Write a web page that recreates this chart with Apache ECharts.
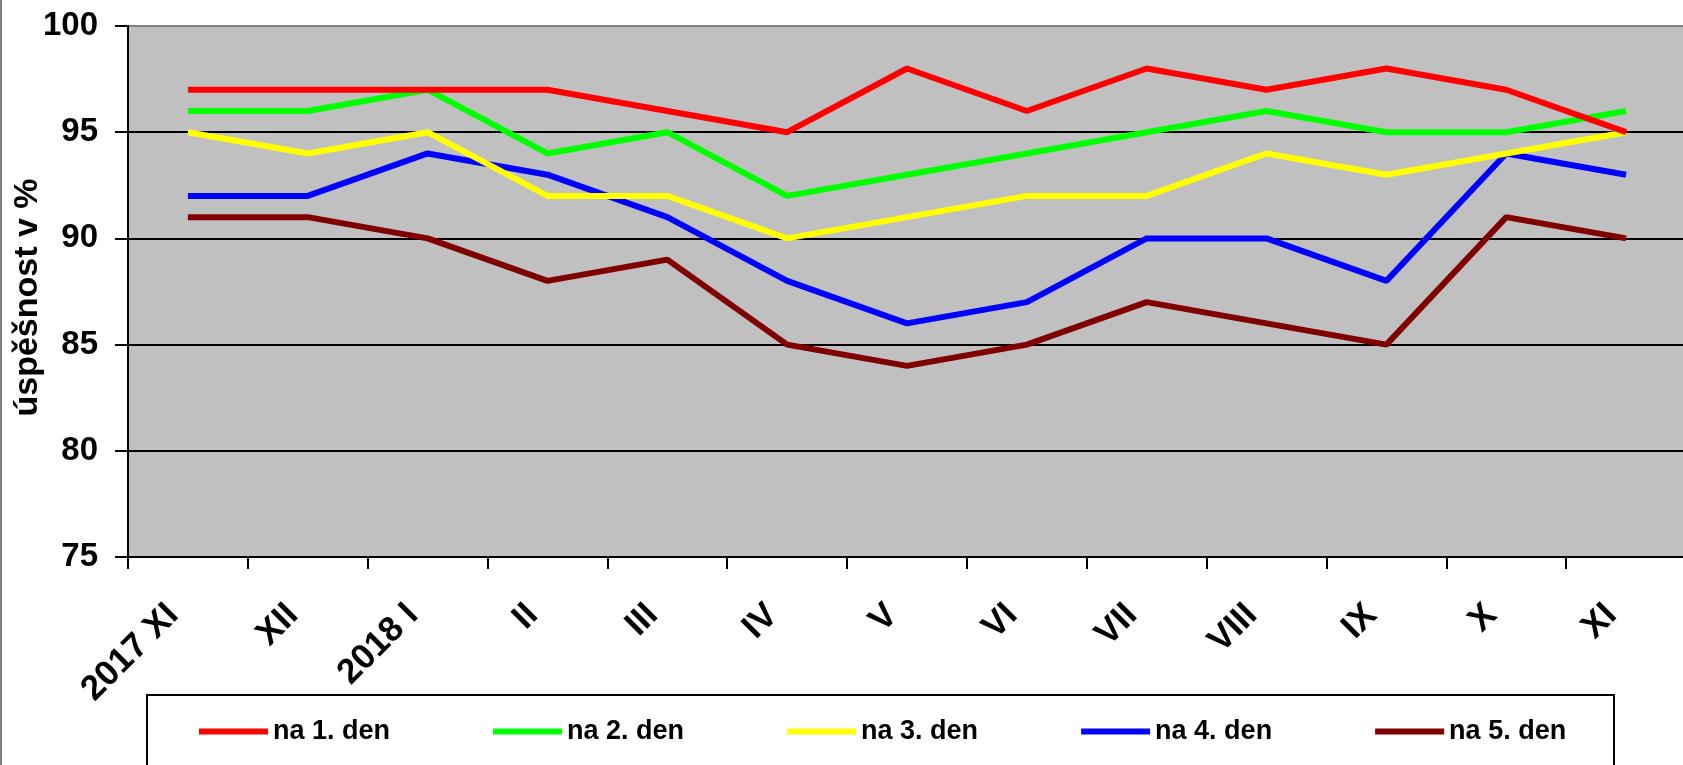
<!DOCTYPE html>
<html>
<head>
<meta charset="utf-8">
<script src="https://cdn.jsdelivr.net/npm/echarts@6/dist/echarts.min.js"></script>
<style>
  html, body { margin: 0; padding: 0; background: #fff; }
  #chart { width: 1683px; height: 765px; }
</style>
</head>
<body>
<div id="chart"></div>
<script>
// Monthly success rate (%) by day of delivery
const months = ['2017 XI', 'XII', '2018 I', 'II', 'III', 'IV', 'V', 'VI', 'VII', 'VIII', 'IX', 'X', 'XI'];
const day1 = [97, 97, 97, 97, 96, 95, 98, 96, 98, 97, 98, 97, 95];
const day2 = [96, 96, 97, 94, 95, 92, 93, 94, 95, 96, 95, 95, 96];
const day3 = [95, 94, 95, 92, 92, 90, 91, 92, 92, 94, 93, 94, 95];
const day4 = [92, 92, 94, 93, 91, 88, 86, 87, 90, 90, 88, 94, 93];
const day5 = [91, 91, 90, 88, 89, 85, 84, 85, 87, 86, 85, 91, 90];
const seriesNames = ['na 1. den', 'na 2. den', 'na 3. den', 'na 4. den', 'na 5. den'];
const seriesColors = ['#ff0000', '#00ff00', '#ffff00', '#0000ff', '#800000'];
const seriesData = [day1, day2, day3, day4, day5];
const yAxisTitle = 'úspěšnost v %';

const FONT = '"Liberation Sans", Arial, sans-serif';

const chart = echarts.init(document.getElementById('chart'), null, { renderer: 'canvas' });

chart.setOption({
  animation: false,
  backgroundColor: '#ffffff',
  textStyle: { fontFamily: FONT },
  grid: {
    left: 128, top: 26, right: -3, bottom: 208,
    outerBoundsMode: 'none',
    containLabel: false,
    show: true,
    backgroundColor: '#c0c0c0',
    borderColor: '#808080',
    borderWidth: 1
  },
  graphic: [
    {
      type: 'line', z: 0,
      shape: { x1: 1, y1: 0, x2: 1, y2: 765 },
      style: { stroke: '#808080', lineWidth: 2 }
    },
    {
      type: 'rect', z: 0,
      shape: { x: 147, y: 695, width: 1467, height: 100 },
      style: { fill: '#ffffff', stroke: '#000000', lineWidth: 2 }
    }
  ],
  legend: {
    z: 10,
    left: 199,
    top: 718,
    padding: 0,
    icon: 'rect',
    itemWidth: 69,
    itemHeight: 6,
    itemGap: 103,
    textStyle: { fontFamily: FONT, fontWeight: 'bold', fontSize: 27, color: '#000' },
    data: seriesNames
  },
  xAxis: {
    type: 'category',
    data: months,
    boundaryGap: true,
    axisLine: { show: true, lineStyle: { color: '#000', width: 2 } },
    axisTick: { show: true, length: 12, lineStyle: { color: '#000', width: 2 } },
    axisLabel: {
      interval: 0,
      rotate: 45,
      margin: 38,
      padding: [0, 21, 0, 0],
      fontFamily: FONT,
      fontWeight: 'bold',
      fontSize: 35,
      color: '#000'
    },
    splitLine: { show: false }
  },
  yAxis: {
    type: 'value',
    min: 75,
    max: 100,
    interval: 5,
    name: yAxisTitle,
    nameLocation: 'middle',
    nameGap: 83,
    nameMoveOverlap: false,
    nameRotate: 90,
    nameTextStyle: { fontFamily: FONT, fontWeight: 'bold', fontSize: 34, color: '#000', padding: [0, 12, 0, 0] },
    axisLine: { show: true, lineStyle: { color: '#000', width: 2 } },
    axisTick: { show: true, length: 13, lineStyle: { color: '#000', width: 2 } },
    axisLabel: {
      margin: 30,
      fontFamily: FONT,
      fontWeight: 'bold',
      fontSize: 33,
      color: '#000'
    },
    splitLine: {
      show: true,
      lineStyle: { color: ['#000', '#000', '#000', '#000', '#000', '#808080'], width: 2 }
    }
  },
  series: seriesNames.map((name, i) => ({
    name: name,
    type: 'line',
    data: seriesData[i],
    symbol: 'none',
    color: seriesColors[i],
    lineStyle: { color: seriesColors[i], width: 6 },
    z: 5 - i
  }))
});
</script>
</body>
</html>
